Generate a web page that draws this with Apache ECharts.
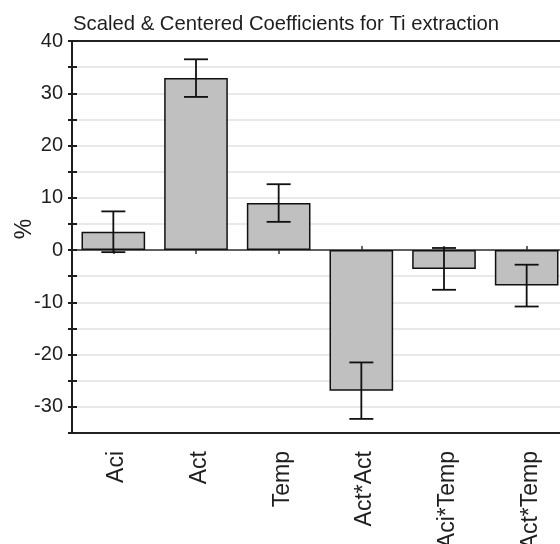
<!DOCTYPE html>
<html>
<head>
<meta charset="utf-8">
<script src="https://cdn.jsdelivr.net/npm/echarts@6/dist/echarts.min.js"></script>
<style>
  html, body { margin: 0; padding: 0; background: #fff; }
  #chart { width: 560px; height: 544px; }
</style>
</head>
<body>
<div id="chart"></div>
<script>
// Model terms and their scaled & centered coefficients (%), with confidence half-widths
const categories = ['Aci', 'Act', 'Temp', 'Act*Act', 'Aci*Temp', 'Act*Temp'];
const coefficients = [3.5, 32.9, 9.0, -26.9, -3.6, -6.8];
const confidence = [3.9, 3.6, 3.6, 5.4, 4.0, 4.0];

// Value axis range and steps
const yMin = -35;
const yMax = 40;
const tickStep = 5;
const labelStep = 10;

const FONT = 'Liberation Sans, Arial, sans-serif';
const INK = '#1e1e1e';

const errorData = categories.map((c, i) => [i, coefficients[i] - confidence[i], coefficients[i] + confidence[i]]);

const chart = echarts.init(document.getElementById('chart'), null, { renderer: 'canvas' });

function valueAxis(extra) {
  return Object.assign({
    type: 'value',
    position: 'left',
    min: yMin,
    max: yMax,
    interval: tickStep,
    splitLine: { show: false },
    axisLabel: { show: false },
    axisLine: { show: false },
    axisTick: { show: false }
  }, extra);
}

function categoryAxis(extra) {
  return Object.assign({
    type: 'category',
    position: 'bottom',
    data: categories,
    boundaryGap: true,
    axisLabel: { show: false },
    axisLine: { show: false },
    axisTick: { show: false },
    splitLine: { show: false }
  }, extra);
}

chart.setOption({
  animation: false,
  backgroundColor: '#fff',
  title: {
    text: 'Scaled & Centered Coefficients for Ti extraction',
    left: 73,
    top: 14,
    padding: 0,
    textStyle: { fontFamily: FONT, fontSize: 20.3, fontWeight: 'normal', color: INK }
  },
  graphic: [{
    type: 'text',
    x: 25,
    y: 229,
    rotation: Math.PI / 2,
    style: {
      text: '%',
      x: 0, y: 0,
      align: 'center',
      verticalAlign: 'middle',
      font: '23px ' + FONT,
      fill: INK
    }
  }],
  grid: {
    left: 72,
    right: -8,
    top: 41,
    bottom: 111,
    outerBoundsMode: 'none',
    containLabel: false,
    show: true,
    borderColor: '#222',
    borderWidth: 2,
    backgroundColor: 'transparent'
  },
  xAxis: [
    // term names below the frame
    categoryAxis({
      axisLine: { show: false, onZero: false },
      axisLabel: {
        show: true,
        rotate: 90,
        margin: 18,
        fontSize: 23,
        lineHeight: 7,
        verticalAlign: 'top',
        fontFamily: FONT,
        color: INK
      }
    }),
    // zero line with ticks pointing down
    categoryAxis({
      axisLine: { show: true, onZero: true, onZeroAxisIndex: 0, lineStyle: { color: '#333', width: 1.5 } },
      axisTick: { show: true, alignWithLabel: true, inside: false, length: 4, lineStyle: { color: '#333', width: 1.5 } }
    }),
    // ticks pointing up from the zero line
    categoryAxis({
      axisLine: { show: false, onZero: true, onZeroAxisIndex: 0 },
      axisTick: { show: true, alignWithLabel: true, inside: true, length: 4, lineStyle: { color: '#333', width: 1.5 } }
    })
  ],
  yAxis: [
    valueAxis({
      axisLine: { show: true, lineStyle: { color: INK, width: 2 } },
      axisTick: { show: true, inside: false, length: 4, lineStyle: { color: INK, width: 2 } },
      axisLabel: {
        show: true,
        margin: 9,
        fontSize: 20,
        fontFamily: FONT,
        color: INK,
        formatter: v => (Math.round(v) % labelStep === 0 ? String(v) : '')
      },
      splitLine: { show: true, showMinLine: false, showMaxLine: false, lineStyle: { color: '#e2e2e2', width: 1.5 } }
    }),
    valueAxis({
      axisTick: { show: true, inside: true, length: 5, lineStyle: { color: INK, width: 2 } }
    })
  ],
  series: [
    {
      type: 'bar',
      xAxisIndex: 0,
      yAxisIndex: 0,
      data: coefficients,
      barWidth: '77%',
      itemStyle: { color: '#c0c0c0', borderColor: '#111', borderWidth: 1.5 },
      z: 3
    },
    {
      type: 'custom',
      xAxisIndex: 0,
      yAxisIndex: 0,
      data: errorData,
      z: 4,
      renderItem: function (params, api) {
        const idx = api.value(0);
        const lo = api.coord([idx, api.value(1)]);
        const hi = api.coord([idx, api.value(2)]);
        const half = 12;
        const style = { stroke: '#111', lineWidth: 1.8 };
        return {
          type: 'group',
          children: [
            { type: 'line', shape: { x1: hi[0], y1: hi[1], x2: lo[0], y2: lo[1] }, style: style },
            { type: 'line', shape: { x1: hi[0] - half, y1: hi[1], x2: hi[0] + half, y2: hi[1] }, style: style },
            { type: 'line', shape: { x1: lo[0] - half, y1: lo[1], x2: lo[0] + half, y2: lo[1] }, style: style }
          ]
        };
      }
    }
  ]
});
</script>
</body>
</html>
